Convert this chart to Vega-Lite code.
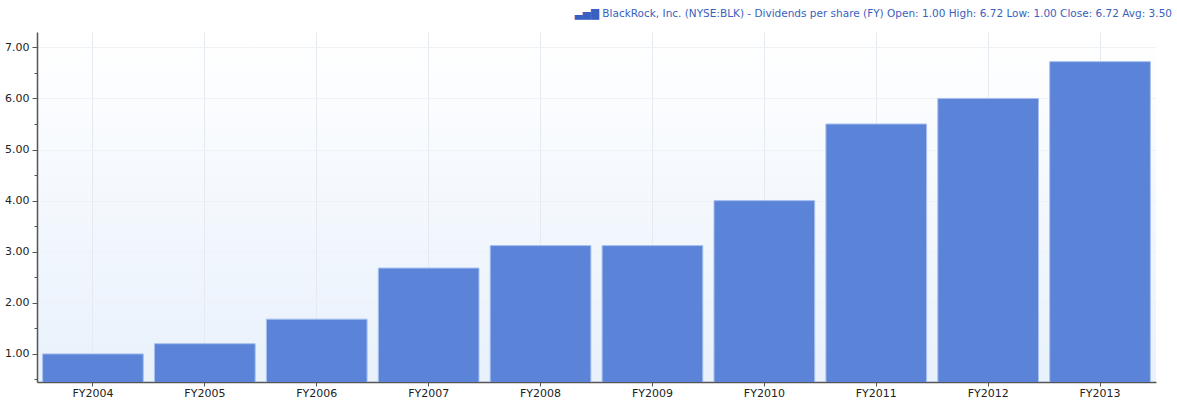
{
  "$schema": "https://vega.github.io/schema/vega-lite/v6.json",
  "autosize": "none",
  "width": 1119,
  "height": 350,
  "padding": {"left": 37, "top": 32, "right": 21, "bottom": 18},
  "background": "#ffffff",
  "config": {
    "font": "DejaVu Sans",
    "view": {
      "stroke": null,
      "fill": {"gradient": "linear", "x1": 0, "y1": 0, "x2": 0, "y2": 1, "stops": [{"offset": 0, "color": "#ffffff"}, {"offset": 1, "color": "#e8f1fc"}]}
    }
  },
  "title": {
    "text": "▃▅▇ BlackRock, Inc. (NYSE:BLK) - Dividends per share (FY)  Open: 1.00  High: 6.72  Low: 1.00  Close: 6.72  Avg: 3.50",
    "anchor": "end",
    "dx": 16,
    "offset": 13,
    "font": "DejaVu Sans",
    "fontSize": 10.5,
    "fontWeight": "normal",
    "color": "#3a5fc0"
  },
  "data": {
    "values": [
      {"year": "FY2004", "dps": 1.00},
      {"year": "FY2005", "dps": 1.20},
      {"year": "FY2006", "dps": 1.68},
      {"year": "FY2007", "dps": 2.68},
      {"year": "FY2008", "dps": 3.12},
      {"year": "FY2009", "dps": 3.12},
      {"year": "FY2010", "dps": 4.00},
      {"year": "FY2011", "dps": 5.50},
      {"year": "FY2012", "dps": 6.00},
      {"year": "FY2013", "dps": 6.72}
    ]
  },
  "mark": {"type": "bar", "color": "#5b84d8", "stroke": "#a9c1ef", "strokeWidth": 1, "clip": true},
  "encoding": {
    "x": {
      "field": "year",
      "type": "nominal",
      "sort": null,
      "scale": {"paddingInner": 0.1, "paddingOuter": 0.05},
      "axis": {
        "title": null,
        "labelAngle": 0,
        "labelFontSize": 11,
        "labelColor": "#222222",
        "labelPadding": 1,
        "domainColor": "#555555",
        "domainWidth": 1.5,
        "tickColor": "#555555",
        "tickSize": 4,
        "grid": true,
        "gridColor": "#e6eaf0",
        "gridWidth": 1
      }
    },
    "y": {
      "field": "dps",
      "type": "quantitative",
      "scale": {"domain": [0.45, 7.3], "nice": false, "zero": false},
      "axis": {
        "title": null,
        "values": [0.5, 1, 1.5, 2, 2.5, 3, 3.5, 4, 4.5, 5, 5.5, 6, 6.5, 7],
        "labelExpr": "datum.value % 1 === 0 ? format(datum.value, '.2f') : ''",
        "labelFontSize": 11,
        "labelColor": "#222222",
        "labelPadding": 3,
        "domainColor": "#555555",
        "domainWidth": 1.5,
        "tickColor": "#555555",
        "tickSize": {"condition": {"test": "datum.value % 1 !== 0", "value": 3}, "value": 5},
        "grid": true,
        "gridColor": "#eef1f6",
        "gridOpacity": {"condition": {"test": "datum.value % 1 !== 0", "value": 0}, "value": 1}
      }
    }
  }
}
